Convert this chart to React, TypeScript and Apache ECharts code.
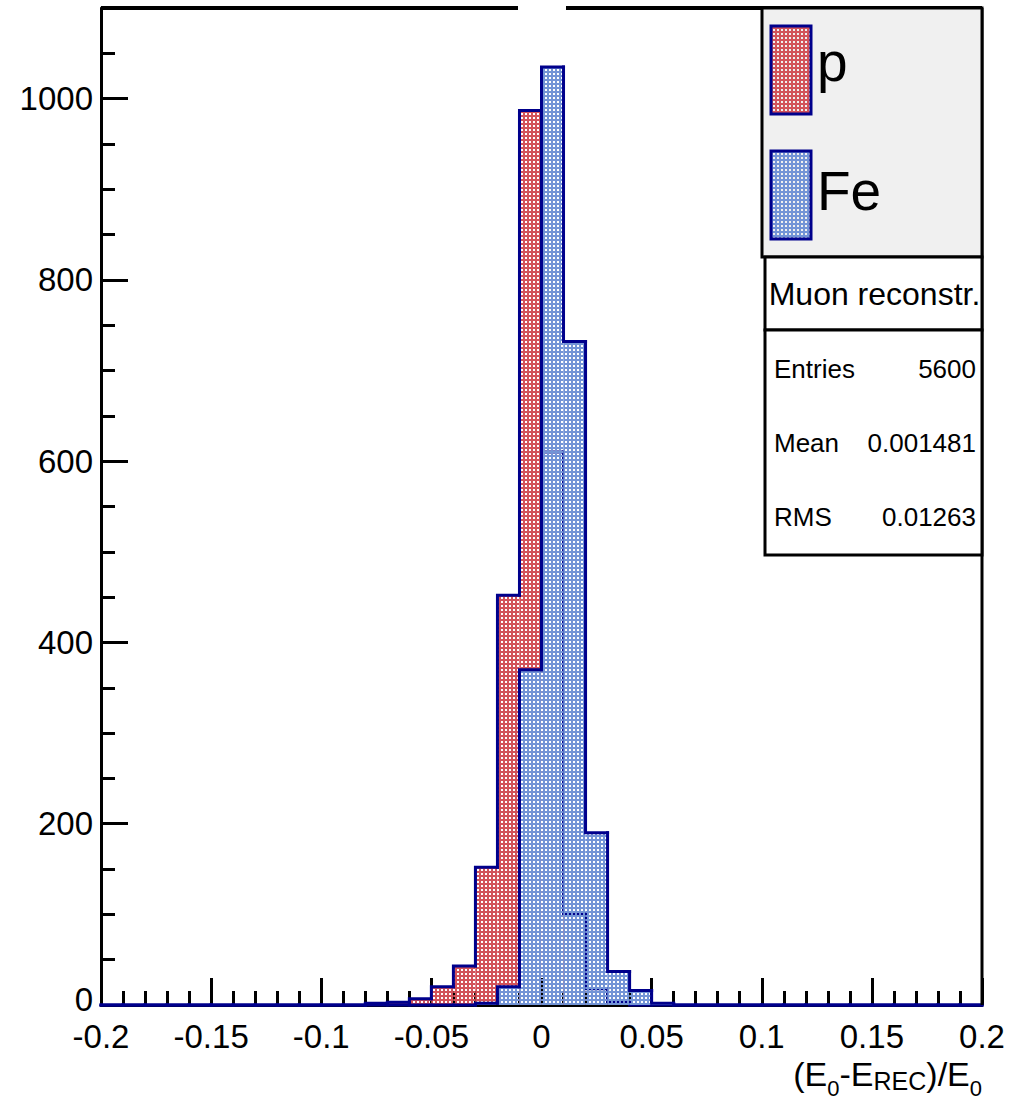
import React, { useEffect, useRef } from "react";
import * as echarts from "echarts";

// ---- data ----
const binLow = [
  -0.2, -0.19, -0.18, -0.17, -0.16, -0.15, -0.14, -0.13, -0.12, -0.11,
  -0.1, -0.09, -0.08, -0.07, -0.06, -0.05, -0.04, -0.03, -0.02, -0.01,
  0, 0.01, 0.02, 0.03, 0.04, 0.05, 0.06, 0.07, 0.08, 0.09,
  0.1, 0.11, 0.12, 0.13, 0.14, 0.15, 0.16, 0.17, 0.18, 0.19,
];
const BIN_WIDTH = 0.01;
const pCounts = [
  0, 0, 0, 0, 0, 0, 0, 0, 0, 0,
  0, 0, 2, 3, 7, 20, 43, 152, 452, 987,
  610, 101, 18, 3, 0, 0, 0, 0, 0, 0,
  0, 0, 0, 0, 0, 0, 0, 0, 0, 0,
];
const feCounts = [
  0, 0, 0, 0, 0, 0, 0, 0, 0, 0,
  0, 0, 0, 0, 0, 0, 0, 2, 20, 370,
  1035, 732, 190, 37, 16, 2, 0, 0, 0, 0,
  0, 0, 0, 0, 0, 0, 0, 0, 0, 0,
];
const xTicks = [-0.2, -0.15, -0.1, -0.05, 0, 0.05, 0.1, 0.15, 0.2];
const yTicks = [0, 200, 400, 600, 800, 1000];
const legendNames = ["p", "Fe"];
const statsTitle = "Muon reconstr.";
const statsRows = [
  ["Entries", "5600"],
  ["Mean", "0.001481"],
  ["RMS", "0.01263"],
];

// ---- layout / style ----
const W = 1020;
const H = 1100;
const GL = 101;
const GR = 982;
const GT = 8;
const GB = 1005;
const FONT = "'Liberation Sans', Arial, Helvetica, sans-serif";
const OUTLINE = "#00008c";
const RED = "#d2535a";
const BLUE = "#7394d6";

function makePattern(color: string) {
  const c = document.createElement("canvas");
  c.width = 4;
  c.height = 4;
  const ctx = c.getContext("2d")!;
  ctx.fillStyle = color;
  ctx.fillRect(0, 0, 4, 4);
  ctx.clearRect(1, 1, 2, 2);
  return { image: c, repeat: "repeat", imageWidth: 4, imageHeight: 4 } as any;
}

function histData(counts: number[]) {
  return counts.map((v, i) => [
    binLow[i],
    binLow[i] + BIN_WIDTH,
    v,
    i > 0 ? counts[i - 1] : 0,
  ]);
}

function makeRender(fill: any, n: number) {
  return (params: any, api: any) => {
    const x0 = api.value(0);
    const x1 = api.value(1);
    const v = api.value(2);
    const prev = api.value(3);
    const pBase0 = api.coord([x0, 0]);
    const pTop1 = api.coord([x1, v]);
    const pPrev = api.coord([x0, prev]);
    const children: any[] = [];
    if (v > 0) {
      children.push({
        type: "rect",
        z2: 0,
        shape: {
          x: pBase0[0],
          y: pTop1[1],
          width: pTop1[0] - pBase0[0],
          height: pBase0[1] - pTop1[1],
        },
        style: { fill },
      });
    }
    const pts = [
      [pBase0[0], pPrev[1]],
      [pBase0[0], pTop1[1]],
      [pTop1[0], pTop1[1]],
    ];
    if (params.dataIndex === n - 1) pts.push([pTop1[0], pBase0[1]]);
    children.push({
      type: "polyline",
      z2: 1,
      shape: { points: pts },
      style: {
        stroke: OUTLINE,
        lineWidth: 3,
        fill: "none",
        lineCap: "square",
        lineJoin: "miter",
      },
    });
    return { type: "group", children };
  };
}

function measure(text: string, size: number) {
  const c = document.createElement("canvas");
  const ctx = c.getContext("2d")!;
  ctx.font = `${size}px ${FONT}`;
  return ctx.measureText(text).width;
}

function axisTitle() {
  const parts: [string, number, number][] = [
    ["(E", 34, 1074],
    ["0", 22, 1088],
    ["-E", 34, 1074],
    ["REC", 25, 1081],
    [")/E", 34, 1074],
    ["0", 22, 1088],
  ];
  const widths = parts.map(([t, s]) => measure(t, s));
  const total = widths.reduce((a, b) => a + b, 0);
  let x = GR - total;
  return parts.map(([t, s, y], i) => {
    const el = {
      type: "text",
      z: 100,
      x,
      y,
      style: {
        text: t,
        fontSize: s,
        fontFamily: FONT,
        fill: "#000",
        align: "left",
        verticalAlign: "middle",
      },
    };
    x += widths[i];
    return el;
  });
}

export default function App() {
  const ref = useRef<HTMLDivElement>(null);
  useEffect(() => {
    if (!ref.current) return;
    const chart = echarts.init(ref.current, null, { renderer: "svg" });
    const redPat = makePattern(RED);
    const bluePat = makePattern(BLUE);
    const tickStyle = { color: "#000", width: 3 };

    const legendBox = { x: 762, y: GT, w: GR - 762, h: 249 };
    const statTop = legendBox.y + legendBox.h;
    const sx = 765;
    const sw = GR - sx;

    const graphic: any[] = [
      // frame top (with gap for empty title) and right
      { type: "line", z: 100, shape: { x1: GL, y1: GT, x2: 518, y2: GT }, style: { stroke: "#000", lineWidth: 4 } },
      { type: "line", z: 100, shape: { x1: 566, y1: GT, x2: GR, y2: GT }, style: { stroke: "#000", lineWidth: 4 } },
      { type: "line", z: 100, shape: { x1: GR, y1: GT, x2: GR, y2: GB }, style: { stroke: "#000", lineWidth: 3 } },
      // legend
      {
        type: "rect", z: 100,
        shape: { x: legendBox.x, y: legendBox.y, width: legendBox.w, height: legendBox.h },
        style: { fill: "#f0f0f0", stroke: "#000", lineWidth: 3 },
      },
      {
        type: "rect", z: 101,
        shape: { x: 771, y: 26, width: 40, height: 88 },
        style: { fill: redPat, stroke: OUTLINE, lineWidth: 3 },
      },
      {
        type: "rect", z: 101,
        shape: { x: 771, y: 151, width: 40, height: 88 },
        style: { fill: bluePat, stroke: OUTLINE, lineWidth: 3 },
      },
      {
        type: "text", z: 101, x: 817, y: 62,
        style: { text: legendNames[0], fontSize: 55, fontFamily: FONT, fill: "#000", verticalAlign: "middle" },
      },
      {
        type: "text", z: 101, x: 817, y: 191,
        style: { text: legendNames[1], fontSize: 55, fontFamily: FONT, fill: "#000", verticalAlign: "middle" },
      },
      // stats title box
      {
        type: "rect", z: 100,
        shape: { x: sx, y: statTop, width: sw, height: 73 },
        style: { fill: "#fff", stroke: "#000", lineWidth: 3 },
      },
      {
        type: "text", z: 101, x: sx + sw / 2 + 1, y: statTop + 37,
        style: { text: statsTitle, fontSize: 32, fontFamily: FONT, fill: "#000", align: "center", verticalAlign: "middle" },
      },
      // stats box
      {
        type: "rect", z: 100,
        shape: { x: sx, y: statTop + 73, width: sw, height: 225 },
        style: { fill: "#fff", stroke: "#000", lineWidth: 3 },
      },
      ...statsRows.flatMap(([k, v], i) => [
        {
          type: "text", z: 101, x: 774, y: 369 + i * 74,
          style: { text: k, fontSize: 26, fontFamily: FONT, fill: "#000", align: "left", verticalAlign: "middle" },
        },
        {
          type: "text", z: 101, x: 976, y: 369 + i * 74,
          style: { text: v, fontSize: 26, fontFamily: FONT, fill: "#000", align: "right", verticalAlign: "middle" },
        },
      ]),
      ...axisTitle(),
    ];

    chart.setOption({
      animation: false,
      backgroundColor: "#fff",
      grid: { left: GL, right: W - GR, top: GT, bottom: H - GB, containLabel: false },
      xAxis: {
        type: "value",
        min: xTicks[0],
        max: xTicks[xTicks.length - 1],
        interval: 0.05,
        axisLine: { show: true, onZero: false, lineStyle: tickStyle },
        axisTick: { show: true, inside: true, length: 27, lineStyle: tickStyle },
        minorTick: { show: true, splitNumber: 5, length: 14, lineStyle: tickStyle },
        splitLine: { show: false },
        minorSplitLine: { show: false },
        axisLabel: {
          color: "#000",
          fontSize: 33,
          lineHeight: 28,
          fontFamily: FONT,
          margin: 17,
          formatter: (v: number) => String(parseFloat(v.toFixed(2))),
        },
      },
      yAxis: [
        {
          type: "value",
          position: "left",
          min: 0,
          max: 1100,
          interval: yTicks[1] - yTicks[0],
          axisLine: { show: true, onZero: false, lineStyle: tickStyle },
          axisTick: { show: true, inside: true, length: 27, lineStyle: tickStyle },
          splitLine: { show: false },
          axisLabel: {
            color: "#000",
            fontSize: 33,
            fontFamily: FONT,
            margin: 8,
            showMaxLabel: false,
            formatter: (v: number) =>
              !yTicks.includes(v) ? "" : v === 0 ? "{z|0}" : String(v),
            rich: {
              z: {
                fontSize: 33,
                fontFamily: FONT,
                color: "#000",
                padding: [0, 0, 12, 0],
              },
            },
          },
        },
        {
          type: "value",
          position: "left",
          min: 0,
          max: 1100,
          interval: 50,
          axisLine: { show: false, onZero: false },
          axisTick: { show: true, inside: true, length: 14, lineStyle: tickStyle },
          splitLine: { show: false },
          axisLabel: { show: false },
        },
      ],
      series: [
        {
          name: legendNames[0],
          type: "custom",
          z: 2,
          renderItem: makeRender(redPat, pCounts.length),
          encode: { x: [0, 1], y: 2 },
          data: histData(pCounts),
          clip: false,
        },
        {
          name: legendNames[1],
          type: "custom",
          z: 3,
          renderItem: makeRender(bluePat, feCounts.length),
          encode: { x: [0, 1], y: 2 },
          data: histData(feCounts),
          clip: false,
        },
      ],
      graphic,
    });
    return () => chart.dispose();
  }, []);
  return (
    <div
      ref={ref}
      style={{ position: "absolute", left: 0, top: 0, width: W, height: H }}
    />
  );
}
